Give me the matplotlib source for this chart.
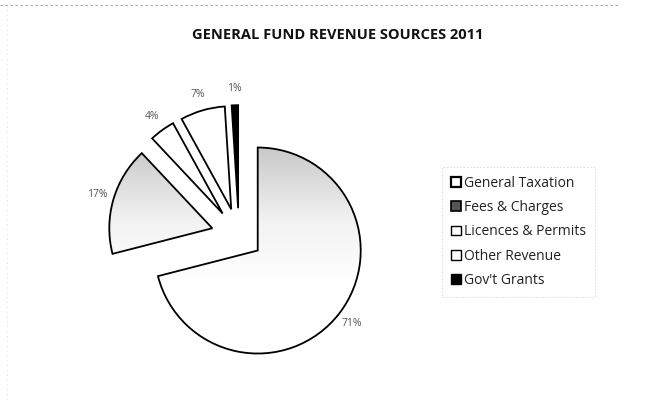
import matplotlib
matplotlib.use('Agg')
import matplotlib.pyplot as plt
import numpy as np
from matplotlib.patches import Patch
from matplotlib.colors import LinearSegmentedColormap

categories = ['General Taxation', 'Fees & Charges', 'Licences & Permits',
              'Other Revenue', "Gov't Grants"]
values = [71, 17, 4, 7, 1]
pct_labels = ['71%', '17%', '4%', '7%', '1%']
title = 'GENERAL FUND REVENUE SOURCES 2011'

plt.rcParams['font.family'] = ['Open Sans', 'DejaVu Sans']

W, H = 657, 412
fig = plt.figure(figsize=(W / 100, H / 100), dpi=100)
ax = fig.add_axes([0, 0, 1, 1])

R = 103.0          # pie radius in pixels
cx, cy = 239, 236  # pie centre in image pixels

wedges, texts = ax.pie(
    values, labels=pct_labels, startangle=90, counterclock=False,
    explode=[0.23, 0.27, 0.27, 0.27, 0.27], labeldistance=1.16,
    colors=['none', 'none', 'white', 'white', 'black'],
    wedgeprops=dict(edgecolor='black', linewidth=1.3),
    textprops=dict(fontsize=7.5, color='#555555'))
for t in texts:
    t.set_ha('center')
    t.set_va('center')

# stippled-looking grey gradient fading to white (top -> bottom)
cmap = LinearSegmentedColormap.from_list(
    'g', [(0.0, '#ffffff'), (0.35, '#f2f2f2'), (0.7, '#cfcfcf'), (1.0, '#b8b8b8')])
grad = np.linspace(0, 1, 256).reshape(-1, 1)
for w in wedges[:2]:
    im = ax.imshow(grad, cmap=cmap, origin='lower', aspect='auto',
                   extent=(-2.5, 2.5, -0.45, 1.25), zorder=0.5,
                   interpolation='bilinear')
    im.set_clip_path(w)

ax.set_xlim(-cx / R, (W - cx) / R)
ax.set_ylim(-(H - cy) / R, cy / R)
ax.set_aspect('equal')
ax.axis('off')

fig.text(338 / W, 1 - 35 / H, title, ha='center', va='center',
         fontsize=10.5, fontweight='bold', color='#111111')

handles = [
    Patch(facecolor='white', edgecolor='black', linewidth=1.6),
    Patch(facecolor='#555555', edgecolor='black', linewidth=1.2),
    Patch(facecolor='white', edgecolor='black', linewidth=1.0),
    Patch(facecolor='white', edgecolor='black', linewidth=1.0),
    Patch(facecolor='black', edgecolor='black', linewidth=1.0),
]
leg = fig.legend(handles, categories, loc='upper left',
                 bbox_to_anchor=(442 / W, 1 - 167 / H),
                 bbox_transform=fig.transFigure,
                 fontsize=10, frameon=True, fancybox=False,
                 handlelength=0.7, handleheight=0.7, handletextpad=0.2,
                 labelspacing=0.66, borderpad=0.65, borderaxespad=0)
leg.get_frame().set_edgecolor('#cccccc')
leg.get_frame().set_linewidth(0.6)
leg.get_frame().set_linestyle((0, (2, 2)))
for t in leg.get_texts():
    t.set_color('#222222')

# faint dotted scan borders
fig.add_artist(plt.Line2D([0, 620 / W], [1 - 5 / H, 1 - 5 / H],
                          transform=fig.transFigure, color='#999999',
                          linewidth=0.6, linestyle=(0, (3, 3))))
fig.add_artist(plt.Line2D([7 / W, 7 / W], [1 - 10 / H, 10 / H],
                          transform=fig.transFigure, color='#bbbbbb',
                          linewidth=0.5, linestyle=(0, (1, 6))))

fig.savefig('out.png', dpi=100, facecolor='white')
